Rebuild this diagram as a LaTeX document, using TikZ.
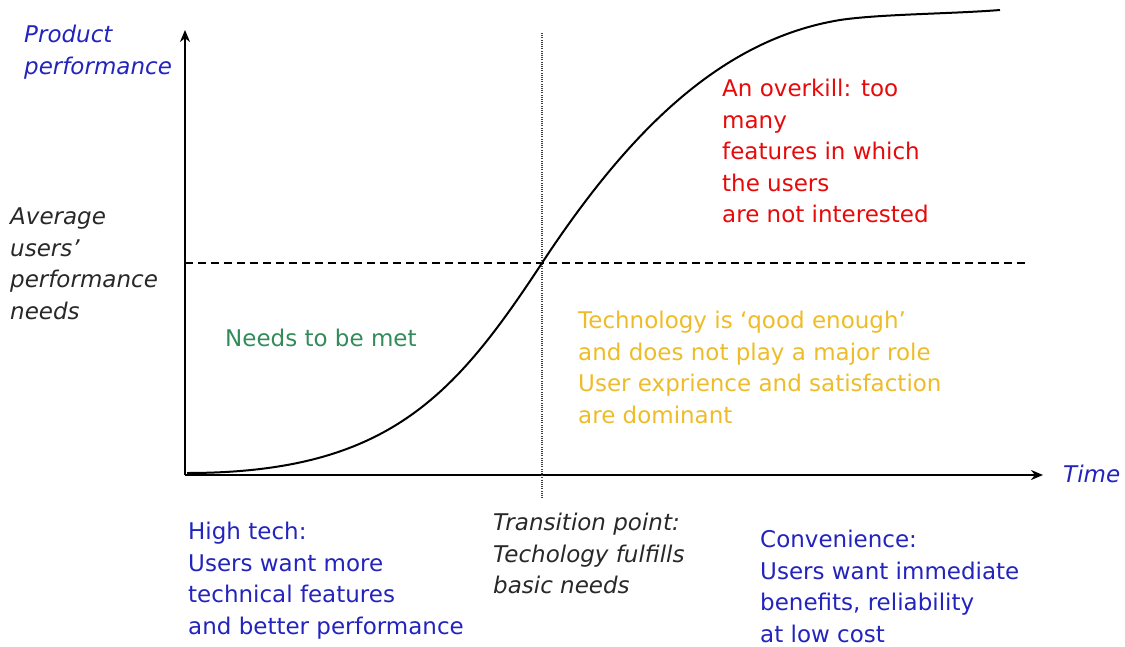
\documentclass[tikz,border=0pt]{standalone}
\usepackage{fontspec}
\setmainfont{DejaVu Sans}
\usetikzlibrary{arrows.meta}
\definecolor{axisblue}{RGB}{35,35,190}
\definecolor{needgreen}{RGB}{50,140,90}
\definecolor{overred}{RGB}{230,10,10}
\definecolor{goodgold}{RGB}{238,188,40}
\definecolor{darktext}{RGB}{40,40,40}
\tikzset{
  lbl/.style={anchor=north west, inner sep=0pt, align=left,
    font=\fontsize{23}{31.5}\selectfont},
  itlbl/.style={lbl, font=\itshape\fontsize{23}{31.5}\selectfont},
  axisline/.style={line width=2pt, -{Stealth[length=12pt,width=10pt]}},
}
\begin{document}
\begin{tikzpicture}[x=1pt,y=-1pt]
\useasboundingbox (0,0) rectangle (1125,646);
% axes
\coordinate (O) at (185,475);
\coordinate (ytop) at (185,30);
\coordinate (xend) at (1043,475);
\draw[axisline] (O) -- (ytop);
\draw[axisline] (O) -- (xend);
% needs line
\coordinate (nl) at (185,263);
\coordinate (nr) at (1028,263);
\draw[dash pattern=on 8pt off 5pt, line width=1.8pt] (nl) -- (nr);
% transition line
\coordinate (tt) at (542,33);
\coordinate (tb) at (542,498);
\draw[dash pattern=on 1pt off 1.2pt, line width=1.5pt, black!75] (tt) -- (tb);
% S-curve
\coordinate (c0) at (187,473);
\coordinate (cm) at (542,263);
\coordinate (c1) at (840,20);
\coordinate (c2) at (1000,10);
\draw[line width=2pt] (c0) .. controls (387,473) and (454,397) .. (cm)
  .. controls (630,129.4) and (722,39.4) .. (c1)
  .. controls (880,14) and (950,14) .. (c2);
% labels
\node[itlbl, text=axisblue] (pp) at (24,25) {Product\\performance};
\node[itlbl, text=darktext] (avg) at (10,208) {Average\\users'\\performance\\needs};
\node[lbl, text=needgreen] (need) at (225,329) {Needs to be met};
\node[lbl, text=overred] (over) at (722,79) {An overkill: too\\many\\features in which\\the users\\are not interested};
\node[lbl, text=goodgold] (good) at (578,311) {Technology is ‘qood enough’\\and does not play a major role\\User exprience and satisfaction\\are dominant};
\node[itlbl, text=axisblue] (time) at (1063,465) {Time};
\node[lbl, text=axisblue] (high) at (188,522) {High tech:\\Users want more\\technical features\\and better performance};
\node[itlbl, text=darktext] (trans) at (493,513) {Transition point:\\Techology fulfills\\basic needs};
\node[lbl, text=axisblue] (conv) at (760,530) {Convenience:\\Users want immediate\\benefits, reliability\\at low cost};
\end{tikzpicture}
\end{document}
